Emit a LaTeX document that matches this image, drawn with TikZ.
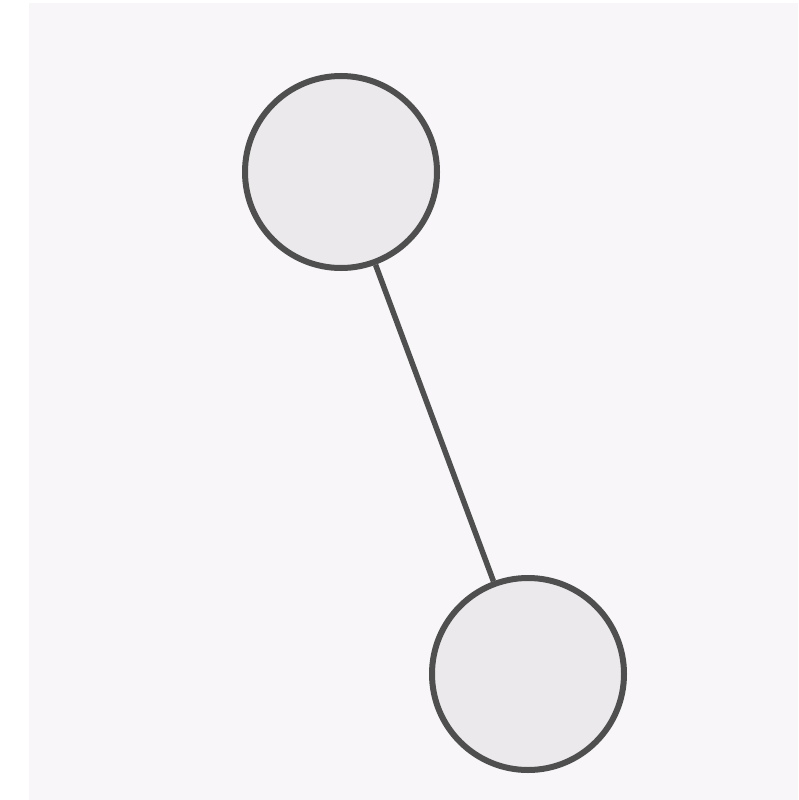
\documentclass[tikz,border=0pt]{standalone}
\definecolor{bgc}{HTML}{F8F6F9}
\definecolor{nodefill}{HTML}{EBE9EC}
\definecolor{edgec}{HTML}{4F4F4F}
\begin{document}
\begin{tikzpicture}[x=1pt,y=-1pt,
  vertex/.style={circle,draw=edgec,fill=nodefill,line width=6pt,minimum size=192pt,inner sep=0pt},
  link/.style={draw=edgec,line width=5.5pt}]
\useasboundingbox (0,0) rectangle (798,800);
\fill[white] (0,0) rectangle (798,800);
\fill[bgc] (29,3) rectangle (798,801);
\node[vertex] (a) at (341,172) {};
\node[vertex] (b) at (528,674) {};
\draw[link] (a) -- (b);
\end{tikzpicture}
\end{document}
